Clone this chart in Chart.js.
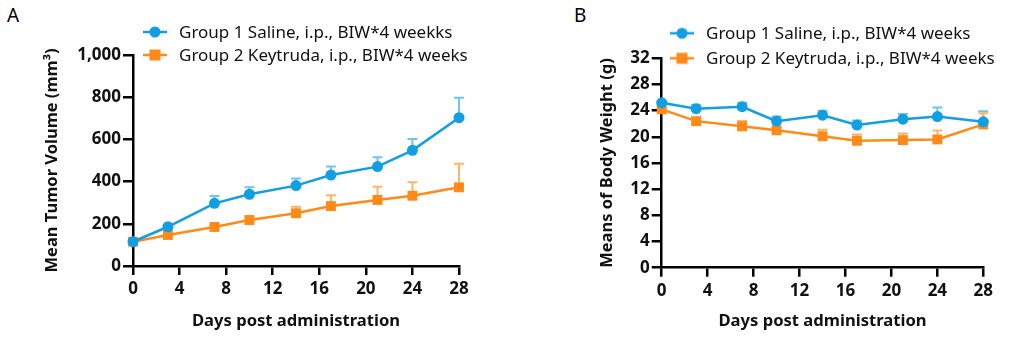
<!DOCTYPE html>
<html><head><meta charset="utf-8">
<script src="https://cdn.jsdelivr.net/npm/chart.js@4/dist/chart.umd.min.js"></script>
<style>
html,body{margin:0;padding:0;background:#fff;width:1013px;height:345px;overflow:hidden;}
.wrap{position:absolute;top:0;height:345px;}
.panel{position:absolute;font-family:"Noto Sans",sans-serif;font-size:19px;color:#000;top:2px;}
</style></head>
<body>
<div class="panel" style="left:7px">A</div>
<div class="panel" style="left:574px">B</div>
<div class="wrap" style="left:0;width:540px"><canvas id="cA" width="540" height="345"></canvas></div>
<div class="wrap" style="left:540px;width:473px"><canvas id="cB" width="473" height="345"></canvas></div>
<script>
const days = [0,3,7,10,14,17,21,24,28];
const seriesLabelsA = ['Group 1 Saline, i.p., BIW*4 weekks','Group 2 Keytruda, i.p., BIW*4 weeks'];
const seriesLabelsB = ['Group 1 Saline, i.p., BIW*4 weeks','Group 2 Keytruda, i.p., BIW*4 weeks'];
const tumorSaline = [115,186,297,340,381,431,471,548,703];
const tumorSalineErr = [3,6,35,33,34,40,44,54,94];
const tumorKeytruda = [115,147,185,218,250,284,313,333,373];
const tumorKeytrudaErr = [3,6,8,8,31,51,63,64,112];
const weightSaline = [25.2,24.3,24.6,22.4,23.3,21.8,22.7,23.1,22.3];
const weightSalineErr = [0.3,0.6,0.6,0.7,0.7,0.7,0.8,1.4,1.6];
const weightKeytruda = [24.2,22.4,21.6,21.0,20.1,19.4,19.5,19.6,21.9];
const weightKeytrudaErr = [0.3,0.4,0.8,0.4,1.0,0.95,1.0,1.35,1.7];
const xTicks = ['0','4','8','12','16','20','24','28'];
const yTicksA = ['0','200','400','600','800','1,000'];
const yTicksB = ['0','4','8','12','16','20','24','28','32'];

const BLUE='#119FE3', BLUE_L='#6FC5F0', ORANGE='#FF8A18', ORANGE_L='#FFB46A';
const FONT='"Noto Sans", sans-serif';

function makeIcon(color, style){
  const c=document.createElement('canvas'); c.width=24; c.height=14;
  const x=c.getContext('2d');
  x.strokeStyle=color; x.lineWidth=2.5; x.beginPath(); x.moveTo(0,7); x.lineTo(24,7); x.stroke();
  x.fillStyle=color;
  if(style==='circle'){x.beginPath(); x.arc(12,7,5.5,0,Math.PI*2); x.fill();}
  else {x.fillRect(6.5,1.5,11,11);}
  return c;
}

const errPlugin = {
  id:'errbars',
  beforeDatasetsDraw(chart){
    const ctx=chart.ctx, ys=chart.scales.y;
    chart.data.datasets.forEach((ds,i)=>{
      const meta=chart.getDatasetMeta(i);
      ctx.save(); ctx.strokeStyle=ds.errColor; ctx.lineWidth=2;
      meta.data.forEach((pt,j)=>{
        const v=ds.data[j].y, e=ds.err[j];
        const yTop=ys.getPixelForValue(v+e), y0=ys.getPixelForValue(v);
        ctx.beginPath(); ctx.moveTo(pt.x,y0); ctx.lineTo(pt.x,yTop);
        ctx.moveTo(pt.x-5,yTop); ctx.lineTo(pt.x+5,yTop); ctx.stroke();
      });
      ctx.restore();
    });
  }
};
const legendPlugin = {
  id:'customLegend',
  afterDraw(chart, args, opts){
    const ctx=chart.ctx, ca=chart.chartArea;
    ctx.save();
    ctx.font='17px '+FONT; ctx.fillStyle='#111'; ctx.textBaseline='middle';
    chart.data.datasets.forEach((ds,i)=>{
      const y=ca.top - opts.gap*(1-i);
      ctx.drawImage(ds.icon, ca.left+opts.dx, y-7);
      ctx.fillText(ds.label, ca.left+opts.dx+opts.tx, y+1);
    });
    ctx.restore();
  }
};

function build(id, cfg){
  const pts=(arr)=>days.map((d,i)=>({x:d,y:arr[i]}));
  const common = {borderWidth:2.5, pointBorderWidth:0, clip:false, tension:0};
  new Chart(document.getElementById(id), {
    type:'line',
    data:{datasets:[
      Object.assign({label:cfg.labels[0], data:pts(cfg.s1), err:cfg.e1, errColor:BLUE_L, borderColor:BLUE, backgroundColor:BLUE, pointStyle:'circle', pointRadius:5.5, icon:makeIcon(BLUE,'circle')},common),
      Object.assign({label:cfg.labels[1], data:pts(cfg.s2), err:cfg.e2, errColor:ORANGE_L, borderColor:ORANGE, backgroundColor:ORANGE, pointStyle:'rect', pointRadius:7, icon:makeIcon(ORANGE,'rect')},common)
    ]},
    options:{
      responsive:false, animation:false, events:[],
      layout:{padding:cfg.pad},
      plugins:{legend:{display:false}, tooltip:{enabled:false}, customLegend:{dx:cfg.ldx, tx:cfg.ltx, gap:cfg.lgap}},
      scales:{
        x:{type:'linear', min:0, max:28,
          afterFit:s=>{s.height=cfg.xh;},
          ticks:{stepSize:4, color:'#111', padding:4, font:{family:FONT, size:17, weight:'bold'},
            callback:(v)=>xTicks[xTicks.indexOf(String(v))] ?? ''},
          grid:{drawOnChartArea:false, drawTicks:true, tickLength:9, color:'#000', lineWidth:2.5},
          border:{color:'#000', width:2.5},
          title:{display:true, text:'Days post administration', color:'#111', font:{family:FONT, size:16.6, weight:'bold'}, padding:{top:4,bottom:4}}
        },
        y:{type:'linear', min:0, max:cfg.ymax,
          afterFit:s=>{s.width=cfg.yw;},
          ticks:{stepSize:cfg.ystep, color:'#111', padding:2, font:{family:FONT, size:17, weight:'bold'},
            callback:(v,i)=>cfg.yt[i]},
          grid:{drawOnChartArea:false, drawTicks:true, tickLength:10, color:'#000', lineWidth:2.5},
          border:{color:'#000', width:2.5},
          title:{display:true, text:cfg.ytitle, color:'#111', font:{family:FONT, size:16.5, weight:'bold'}, padding:{top:4,bottom:4}}
        }
      }
    },
    plugins:[errPlugin, legendPlugin]
  });
}

build('cA', {labels:seriesLabelsA, s1:tumorSaline, e1:tumorSalineErr, s2:tumorKeytruda, e2:tumorKeytrudaErr,
  ymax:1000, ystep:200, yt:yTicksA, ytitle:'Mean Tumor Volume (mm³)',
  pad:{left:38.4, top:55, right:81, bottom:9.7}, yw:94.6, xh:69.3, ldx:10, ltx:36, lgap:23});
build('cB', {labels:seriesLabelsB, s1:weightSaline, e1:weightSalineErr, s2:weightKeytruda, e2:weightKeytrudaErr,
  ymax:32, ystep:4, yt:yTicksB, ytitle:'Means of Body Weight (g)',
  pad:{left:53.1, top:58.3, right:29.7, bottom:9.7}, yw:68.6, xh:67.6, ldx:8.3, ltx:36, lgap:25});
</script>
</body></html>
